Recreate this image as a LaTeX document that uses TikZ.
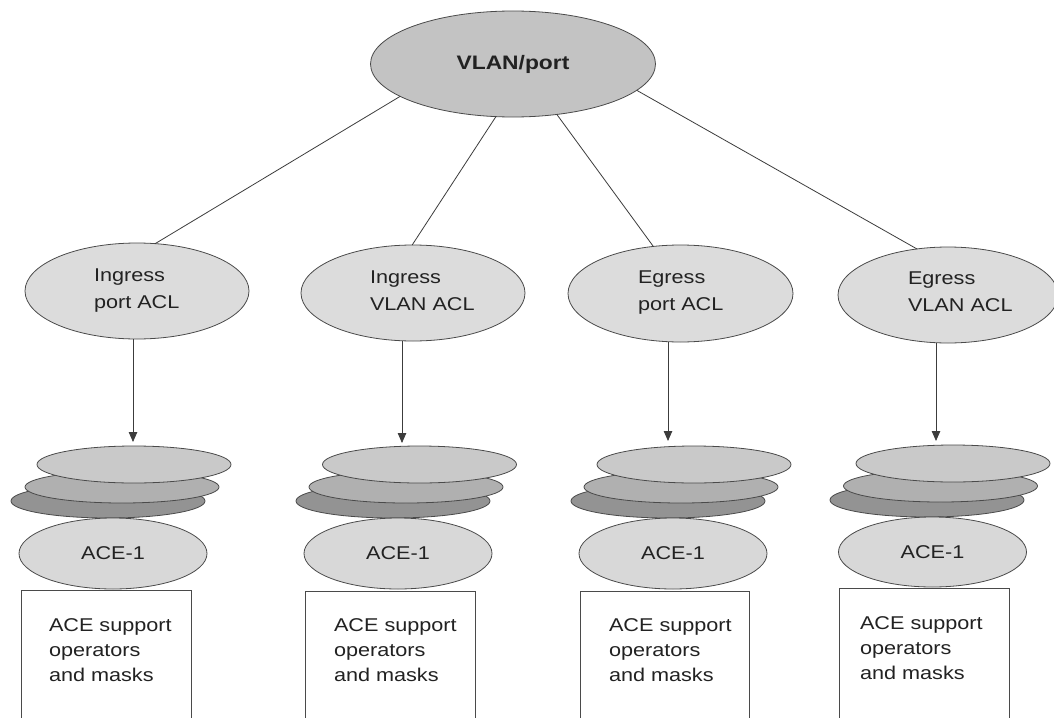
\documentclass[tikz,border=0pt]{standalone}
\usepackage{fontspec}
\setmainfont[FakeStretch=1.17]{Liberation Sans}
\usetikzlibrary{shapes.geometric,arrows.meta}
\definecolor{edge}{HTML}{4A4A4A}
\definecolor{linec}{HTML}{3C3C3C}
\definecolor{txt}{HTML}{222222}
\definecolor{topfill}{HTML}{C3C3C3}
\definecolor{aclfill}{HTML}{DCDCDC}
\definecolor{stackA}{HTML}{C9C9C9}
\definecolor{stackB}{HTML}{B0B0B0}
\definecolor{stackC}{HTML}{939393}
\definecolor{acefill}{HTML}{D8D8D8}
\begin{document}
\begin{tikzpicture}[x=1pt,y=-1pt,
  ell/.style={ellipse,draw=edge,line width=0.8pt,inner sep=0pt,outer sep=0pt,text=txt},
  acl/.style={ell,fill=aclfill,minimum width=224pt,minimum height=96pt},
  sa/.style={ell,fill=stackA,minimum width=194pt,minimum height=37pt},
  sb/.style={ell,fill=stackB,minimum width=194pt,minimum height=32pt},
  sc/.style={ell,fill=stackC,minimum width=194pt,minimum height=34pt},
  ace/.style={ell,fill=acefill,minimum width=188pt,minimum height=71pt,font=\fontsize{18.5}{25}\selectfont},
  lbl/.style={anchor=north west,inner sep=0pt,outer sep=0pt,align=left,text=txt,font=\fontsize{18.5}{26.5}\selectfont},
  boxtxt/.style={anchor=north west,inner sep=0pt,outer sep=0pt,align=left,text=txt,font=\fontsize{18.5}{25}\selectfont},
  supbox/.style={draw=edge,line width=0.8pt,anchor=north west,minimum width=170pt,minimum height=160pt,inner sep=0pt},
  conn/.style={draw=linec,line width=0.8pt},
  arr/.style={conn,-{Triangle[length=10pt,width=8.5pt]}}]
\clip (0,0) rectangle (1054,717);
\fill[white] (0,0) rectangle (1054,717);

% top node
\node[ell,fill=topfill,minimum width=285pt,minimum height=106pt,font=\fontsize{19.5}{24}\selectfont\bfseries] (top) at (513,64) {VLAN/port};

% second level ellipses
\node[acl] (ipa) at (137,291) {};
\node[acl] (iva) at (413,293) {};
\node[acl,minimum width=225pt,minimum height=97pt] (epa) at (680.5,293.5) {};
\node[acl,minimum width=220pt] (eva) at (948,295) {};

\node[lbl] (ipat) at (94,269) {Ingress\\port ACL};
\node[lbl] (ivat) at (370,271) {Ingress\\VLAN ACL};
\node[lbl] (epat) at (638,271) {Egress\\port ACL};
\node[lbl] (evat) at (908,272) {Egress\\VLAN ACL};

% connectors from top
\draw[conn] (top.196) -- (ipa.69);
\draw[conn] (top.252.5) -- (iva.91);
\draw[conn] (top.311.5) -- (epa.120);
\draw[conn] (top.348) -- (eva.124);

% arrow tips
\coordinate (t1) at (133,442);
\coordinate (t2) at (402,443);
\coordinate (t3) at (668,441);
\coordinate (t4) at (936,441);
\draw[arr] (ipa.south -| t1) -- (t1);
\draw[arr] (iva.south -| t2) -- (t2);
\draw[arr] (epa.south -| t3) -- (t3);
\draw[arr] (eva.south -| t4) -- (t4);

% stacks
\node[sc] (s1c) at (108,501) {};
\node[sb] (s1b) at (122,487) {};
\node[sa] (s1a) at (134,464.5) {};
\node[sc] (s2c) at (393,501) {};
\node[sb] (s2b) at (406,487) {};
\node[sa] (s2a) at (419.5,464.5) {};
\node[sc] (s3c) at (668,501) {};
\node[sb] (s3b) at (681,487) {};
\node[sa] (s3a) at (694,464.5) {};
\node[sc] (s4c) at (927,500) {};
\node[sb] (s4b) at (940.5,486) {};
\node[sa] (s4a) at (953,463.5) {};

% ACE-1 ellipses
\node[ace] (a1) at (113,553.5) {ACE-1};
\node[ace] (a2) at (398,553.5) {ACE-1};
\node[ace] (a3) at (673,553.5) {ACE-1};
\node[ace,minimum height=70pt] (a4) at (932.5,552) {ACE-1};

% support boxes
\node[supbox] (b1) at (21,590) {};
\node[supbox] (b2) at (305,591) {};
\node[supbox,minimum width=169pt] (b3) at (580,591) {};
\node[supbox] (b4) at (839,588) {};
\node[boxtxt] (b1t) at (49,618.5) {ACE support\\operators\\and masks};
\node[boxtxt] (b2t) at (334,618.5) {ACE support\\operators\\and masks};
\node[boxtxt] (b3t) at (609,618.5) {ACE support\\operators\\and masks};
\node[boxtxt] (b4t) at (860,616.5) {ACE support\\operators\\and masks};
\end{tikzpicture}
\end{document}
